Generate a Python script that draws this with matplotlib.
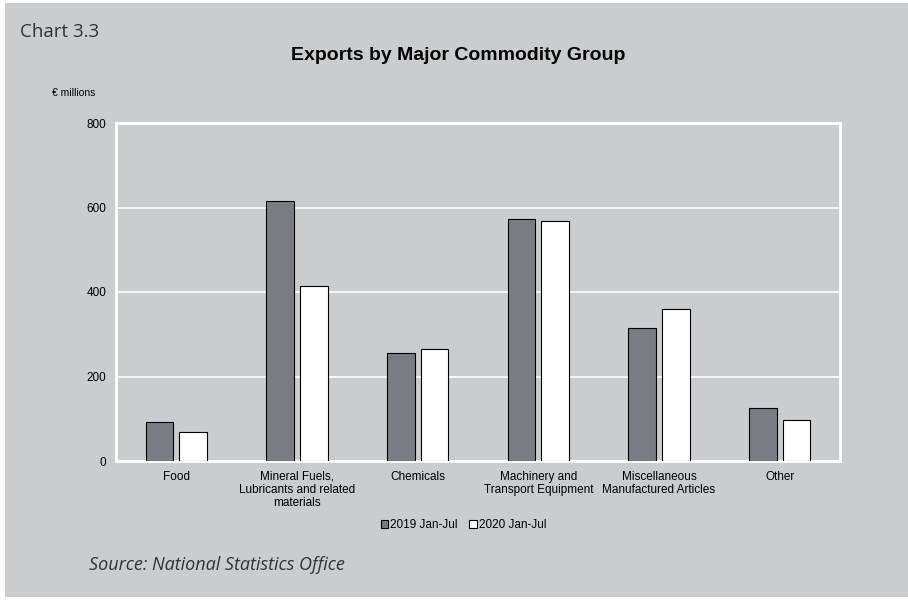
import numpy as np
import matplotlib.pyplot as plt
from matplotlib.patches import Rectangle

categories = ['Food', 'Mineral Fuels,\nLubricants and related\nmaterials', 'Chemicals',
              'Machinery and\nTransport Equipment', 'Miscellaneous\nManufactured Articles', 'Other']
exports_2019 = [92, 615, 256, 573, 315, 125]
exports_2020 = [69, 414, 265, 568, 360, 97]
series_names = ['2019 Jan-Jul', '2020 Jan-Jul']

bg = '#cbcccd'
plt.rcParams['font.family'] = ['Liberation Sans', 'DejaVu Sans']

fig = plt.figure(figsize=(9.08, 6.01), dpi=100, facecolor='white')
fig.patches.append(Rectangle((5 / 908, 4 / 601), 903 / 908, 594 / 601,
                             transform=fig.transFigure, facecolor=bg, edgecolor='none', zorder=-10))

ax = fig.add_axes([116 / 908, 1 - 461 / 601, (840 - 116) / 908, (461 - 123) / 601])
ax.set_facecolor(bg)

x = np.arange(len(categories))
w = 0.23
ax.bar(x - 0.14, exports_2019, w, color='#7b7c81', edgecolor='black', linewidth=0.8,
       label=series_names[0], zorder=3)
ax.bar(x + 0.14, exports_2020, w, color='white', edgecolor='black', linewidth=0.8,
       label=series_names[1], zorder=3)

ax.set_xlim(-0.5, len(categories) - 0.5)
ax.set_ylim(0, 800)
ax.set_yticks([0, 200, 400, 600, 800])
ax.yaxis.grid(True, color='white', linewidth=1.2, zorder=1)
ax.set_axisbelow(True)
for s in ax.spines.values():
    s.set_color('white')
    s.set_linewidth(2)
ax.tick_params(axis='both', length=0, labelsize=8.5, colors='black')
ax.tick_params(axis='y', pad=7)
ax.tick_params(axis='x', pad=7)
ax.set_xticks(x)
ax.set_xticklabels(categories, linespacing=1.1)

leg = ax.legend(loc='upper center', bbox_to_anchor=(0.48, -0.14), ncol=2, frameon=False,
                fontsize=8.5, handlelength=0.6, handleheight=0.6, handletextpad=0.2,
                columnspacing=1.0)

fig.text(0.505, 1 - 55 / 601, 'Exports by Major Commodity Group', ha='center', va='center',
         fontsize=14, fontweight='bold')
fig.text(52 / 908, 1 - 93 / 601, '€ millions', ha='left', va='center', fontsize=7.5)
fig.text(20 / 908, 1 - 32 / 601, 'Chart 3.3', ha='left', va='center', fontsize=13.5,
         color='#333333', family=['Open Sans', 'DejaVu Sans'])
fig.text(89 / 908, 1 - 565 / 601, 'Source: National Statistics Office', ha='left', va='center',
         fontsize=13, style='italic', color='#333333', family=['Open Sans', 'DejaVu Sans'])

fig.savefig('out.png', dpi=100, facecolor=fig.get_facecolor())
